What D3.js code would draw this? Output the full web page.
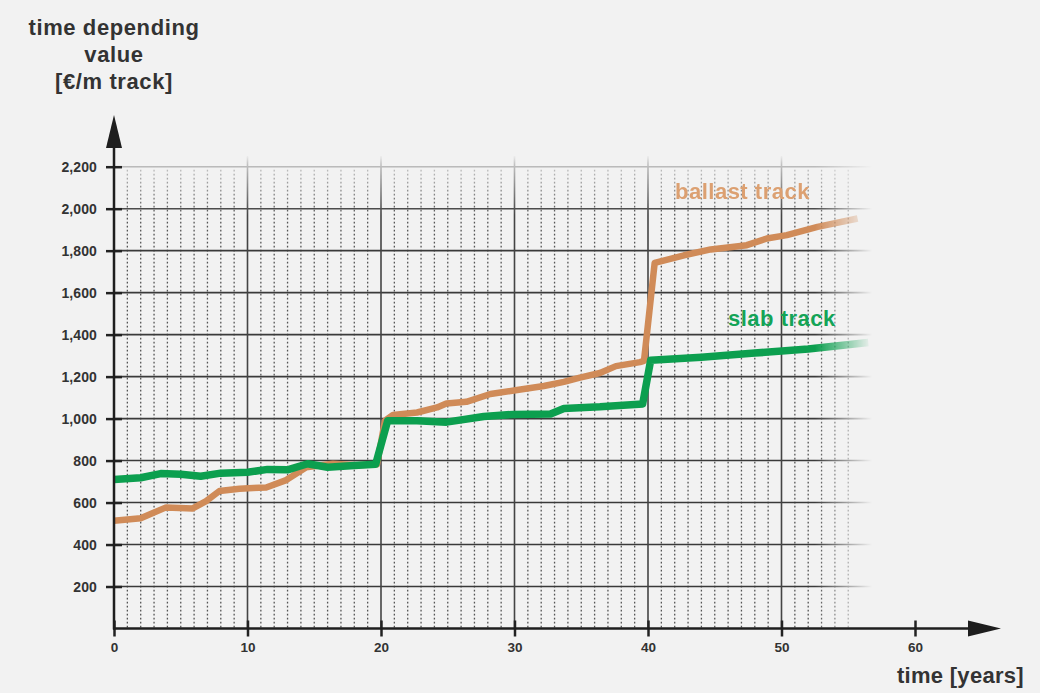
<!DOCTYPE html>
<html>
<head>
<meta charset="utf-8">
<script src="https://cdn.jsdelivr.net/npm/d3@7"></script>
<style>
  html, body { margin: 0; padding: 0; background: #f2f2f2; }
  svg { display: block; }
  text { font-family: "Liberation Sans", Arial, sans-serif; font-weight: bold; }
</style>
</head>
<body>
<svg id="chart" width="1040" height="693"></svg>
<script>
// ---- data ----
const xTicks = [0, 10, 20, 30, 40, 50, 60];
const yTicks = [200, 400, 600, 800, 1000, 1200, 1400, 1600, 1800, 2000, 2200];

const slabYears  = [0, 2, 3.5, 5, 6.5, 8, 10, 11.5, 13, 14.5, 16, 18, 19.6, 20.5, 22.7, 24.9, 27.7, 29.9, 32.7, 33.7, 36.4, 39.6, 40.2, 44, 48, 52, 56.5];
const slabValues = [710, 718, 738, 735, 725, 740, 744, 758, 756, 785, 768, 776, 783, 990, 990, 983, 1010, 1020, 1022, 1048, 1056, 1070, 1278, 1292, 1312, 1332, 1362];

const ballastYears  = [0, 2, 3.9, 5.9, 6.9, 7.9, 9.4, 11.4, 12.9, 14.4, 16.4, 18.2, 19.7, 20.3, 20.9, 22.7, 24.2, 24.9, 26.4, 28.2, 30.2, 32.2, 33.7, 34.9, 36.4, 37.6, 39.4, 39.7, 40.5, 42.7, 44.7, 47.4, 48.9, 50.4, 52.7, 55.7];
const ballastValues = [513, 525, 577, 572, 607, 655, 666, 672, 707, 768, 785, 778, 782, 990, 1017, 1029, 1053, 1072, 1080, 1117, 1136, 1155, 1175, 1195, 1217, 1250, 1269, 1275, 1742, 1778, 1806, 1826, 1858, 1874, 1913, 1953];

const seriesNames = ["ballast track", "slab track"];

// ---- layout ----
const svg = d3.select("#chart");
const x = d3.scaleLinear().domain([0, 60]).range([114, 915]);
const y = d3.scaleLinear().domain([0, 2200]).range([628.5, 166.7]);

svg.append("rect").attr("width", 1040).attr("height", 693).attr("fill", "#f2f2f2");

const defs = svg.append("defs");
const gR = defs.append("linearGradient").attr("id", "fadeR")
  .attr("gradientUnits", "userSpaceOnUse").attr("x1", 815).attr("x2", 872).attr("y1", 0).attr("y2", 0);
gR.append("stop").attr("offset", 0).attr("stop-color", "#fff");
gR.append("stop").attr("offset", 1).attr("stop-color", "#000");
defs.append("mask").attr("id", "maskR").attr("maskUnits", "userSpaceOnUse")
  .attr("x", 0).attr("y", 0).attr("width", 1040).attr("height", 693)
  .append("rect").attr("width", 1040).attr("height", 693).attr("fill", "url(#fadeR)");
const gT = defs.append("linearGradient").attr("id", "fadeT")
  .attr("gradientUnits", "userSpaceOnUse").attr("x1", 0).attr("x2", 0).attr("y1", 155).attr("y2", 215);
gT.append("stop").attr("offset", 0).attr("stop-color", "#000");
gT.append("stop").attr("offset", 0.15).attr("stop-color", "#444");
gT.append("stop").attr("offset", 1).attr("stop-color", "#fff");
defs.append("mask").attr("id", "maskT").attr("maskUnits", "userSpaceOnUse")
  .attr("x", 0).attr("y", 0).attr("width", 1040).attr("height", 693)
  .append("rect").attr("width", 1040).attr("height", 693).attr("fill", "url(#fadeT)");
defs.append("filter").attr("id", "soft").append("feGaussianBlur").attr("stdDeviation", 0.6);

// ---- grid ----
const gridOuter = svg.append("g").attr("mask", "url(#maskR)");
const grid = gridOuter.append("g").attr("mask", "url(#maskT)");
const minorYears = d3.range(1, 56).filter(d => d % 10 !== 0);
grid.selectAll(".minor").data(minorYears).join("line")
  .attr("x1", d => x(d)).attr("x2", d => x(d))
  .attr("y1", y(2200) + 3).attr("y2", y(0))
  .attr("stroke", "#555").attr("stroke-width", 1.3).attr("stroke-dasharray", "1.8,2.2");
grid.selectAll(".hgrid").data(yTicks).join("line")
  .attr("x1", x(0)).attr("x2", 880)
  .attr("y1", d => y(d)).attr("y2", d => y(d))
  .attr("stroke", "#3a3a3a").attr("stroke-width", 1.6);
grid.selectAll(".major").data(xTicks.filter(d => d > 0 && d < 60)).join("line")
  .attr("x1", d => x(d)).attr("x2", d => x(d))
  .attr("y1", 156).attr("y2", y(0))
  .attr("stroke", "#444").attr("stroke-width", 1.6);

// ---- lines ----
const line = d3.line().x(d => x(d[0])).y(d => y(d[1])).curve(d3.curveLinear);
const ballastData = ballastYears.map((d, i) => [d, ballastValues[i]]);
const slabData = slabYears.map((d, i) => [d, slabValues[i]]);
const lines = svg.append("g").attr("mask", "url(#maskR)");
lines.append("path").datum(ballastData).attr("d", line)
  .attr("fill", "none").attr("stroke", "#d08b58").attr("stroke-width", 6.5)
  .attr("stroke-linejoin", "round").attr("filter", "url(#soft)");
lines.append("path").datum(slabData).attr("d", line)
  .attr("fill", "none").attr("stroke", "#0c9f4f").attr("stroke-width", 7.5)
  .attr("stroke-linejoin", "round");

// ---- axes ----
const yAxis = svg.append("g").attr("transform", `translate(${x(0)},0)`)
  .call(d3.axisLeft(y).tickValues(yTicks).tickFormat(d3.format(",")).tickSize(8).tickPadding(9));
yAxis.select(".domain").remove();
yAxis.selectAll(".tick line").attr("x1", 8).attr("stroke", "#222").attr("stroke-width", 2.5);
yAxis.selectAll(".tick text").attr("font-size", 14).attr("fill", "#333")
  .attr("font-family", "Liberation Sans, Arial, sans-serif").attr("font-weight", "bold")
  .attr("letter-spacing", 0.1).attr("dy", "0.36em");

const xAxis = svg.append("g").attr("transform", `translate(0,${y(0)})`)
  .call(d3.axisBottom(x).tickValues(xTicks).tickFormat(d3.format("d")).tickSize(8).tickPadding(6));
xAxis.select(".domain").remove();
xAxis.selectAll(".tick line").attr("y1", -8).attr("stroke", "#222").attr("stroke-width", 2.5);
xAxis.selectAll(".tick text").attr("font-size", 13.5).attr("fill", "#333")
  .attr("font-family", "Liberation Sans, Arial, sans-serif").attr("font-weight", "bold");

svg.append("line").attr("x1", x(0)).attr("x2", x(0)).attr("y1", y(0) + 1).attr("y2", 146)
  .attr("stroke", "#1e1e1e").attr("stroke-width", 2.5);
svg.append("path").attr("d", `M${x(0) - 8},148 L${x(0)},115 L${x(0) + 8},148 Z`).attr("fill", "#1e1e1e");
svg.append("line").attr("x1", x(0) - 1).attr("x2", 970).attr("y1", y(0)).attr("y2", y(0))
  .attr("stroke", "#1e1e1e").attr("stroke-width", 2.5);
svg.append("path").attr("d", `M968,${y(0) - 8} L1001,${y(0)} L968,${y(0) + 8} Z`).attr("fill", "#1e1e1e");

// ---- titles ----
const title = svg.append("text").attr("text-anchor", "middle").attr("fill", "#333")
  .attr("font-size", 22).attr("letter-spacing", 0.6);
title.append("tspan").attr("x", 114).attr("y", 35).text("time depending");
title.append("tspan").attr("x", 114).attr("y", 62).text("value");
title.append("tspan").attr("x", 114).attr("y", 89).text("[€/m track]");

svg.append("text").attr("x", 1024).attr("y", 683).attr("text-anchor", "end")
  .attr("fill", "#333").attr("font-size", 22).attr("letter-spacing", 0.3).text("time [years]");

// ---- series labels ----
svg.append("text").attr("x", 675).attr("y", 199).attr("fill", "#dca071")
  .attr("font-size", 22).attr("letter-spacing", 0.5).attr("filter", "url(#soft)").text(seriesNames[0]);
svg.append("text").attr("x", 728).attr("y", 326).attr("fill", "#14a457")
  .attr("font-size", 22).attr("letter-spacing", 0.5).text(seriesNames[1]);
</script>
</body>
</html>
